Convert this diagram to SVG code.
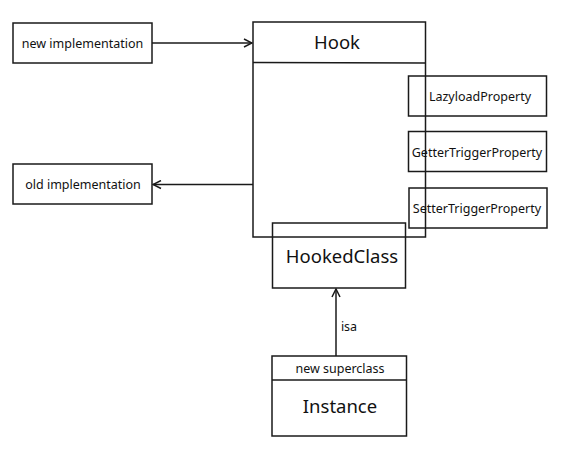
<svg xmlns="http://www.w3.org/2000/svg" width="578" height="453" viewBox="0 0 578 453">
<style>
.b{fill:none;stroke:#1a1a1a;stroke-width:1.5}
.t{font-family:"Noto Sans","Open Sans",sans-serif;fill:#111;text-anchor:middle}
.s{font-size:12.5px}
.l{font-size:18.5px}
.c{fill:none;stroke:#1a1a1a;stroke-width:1.5}
</style>
<defs>
<marker id="a" viewBox="0 0 10 10" refX="9" refY="5" markerWidth="10" markerHeight="10" markerUnits="userSpaceOnUse" orient="auto">
<path d="M1,1 L9,5 L1,9" fill="none" stroke="#1a1a1a" stroke-width="1.5"/>
</marker>
</defs>
<g id="hook">
<rect class="b" x="253" y="22" width="172.5" height="215"/>
<line class="b" x1="253" y1="62.5" x2="425.5" y2="63"/>
<text class="t l" x="337" y="49">Hook</text>
</g>
<g id="new-implementation">
<rect class="b" x="13" y="23" width="139" height="40"/>
<text class="t s" x="82.5" y="47.5">new implementation</text>
</g>
<g id="old-implementation">
<rect class="b" x="13" y="164" width="139" height="40"/>
<text class="t s" x="83" y="189">old implementation</text>
</g>
<g id="lazyload">
<rect class="b" x="408.5" y="76" width="138" height="40"/>
<text class="t s" x="480" y="101">LazyloadProperty</text>
</g>
<g id="getter">
<rect class="b" x="408.5" y="131.5" width="138" height="40"/>
<text class="t s" x="477" y="157">GetterTriggerProperty</text>
</g>
<g id="setter">
<rect class="b" x="409" y="188" width="138" height="40"/>
<text class="t s" x="477" y="213">SetterTriggerProperty</text>
</g>
<g id="hookedclass">
<rect class="b" x="272.5" y="223" width="133" height="65"/>
<text class="t l" x="342" y="263">HookedClass</text>
</g>
<g id="instance">
<rect class="b" x="272" y="356" width="134.5" height="80"/>
<line class="b" x1="272" y1="380" x2="406.5" y2="380"/>
<text class="t s" x="340" y="373">new superclass</text>
<text class="t l" x="340" y="413">Instance</text>
</g>
<g id="connectors">
<line class="c" x1="152" y1="43" x2="252" y2="43" marker-end="url(#a)"/>
<line class="c" x1="253" y1="184.5" x2="153" y2="184.5" marker-end="url(#a)"/>
<line class="c" x1="336" y1="356" x2="336" y2="289" marker-end="url(#a)"/>
<text class="t s" x="349" y="331">isa</text>
</g>
</svg>
